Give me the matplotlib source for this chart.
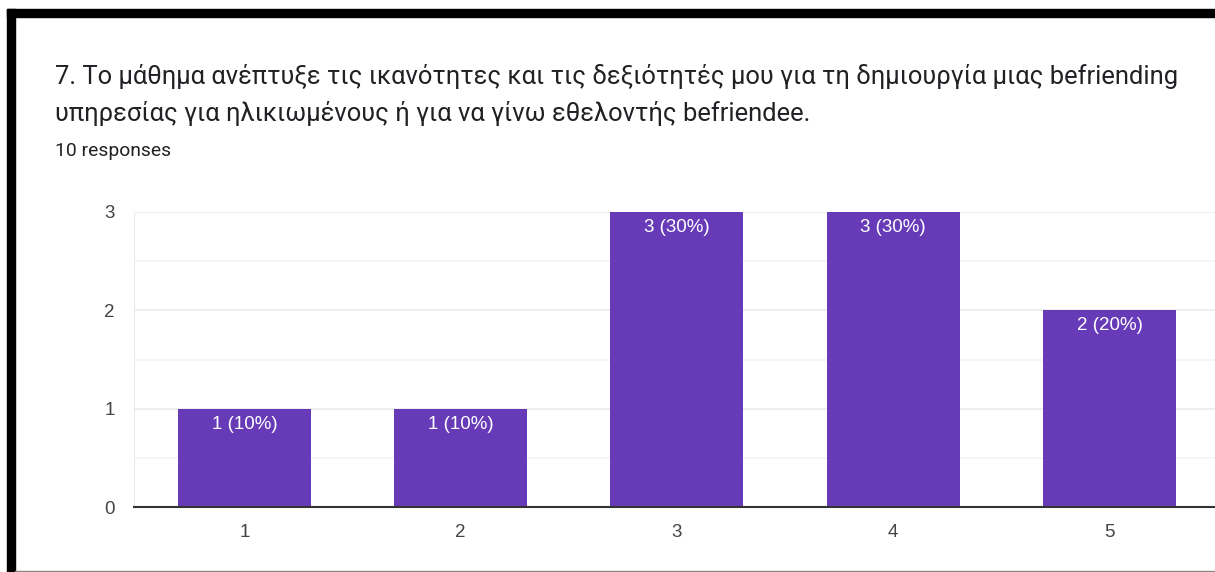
import matplotlib.pyplot as plt
from matplotlib.patches import Rectangle

plt.rcParams['font.family'] = ['Roboto', 'DejaVu Sans']

categories = [1, 2, 3, 4, 5]
counts = [1, 1, 3, 3, 2]
total = 10
title_lines = ["7. Το μάθημα ανέπτυξε τις ικανότητες και τις δεξιότητές μου για τη δημιουργία μιας befriending",
               "υπηρεσίας για ηλικιωμένους ή για να γίνω εθελοντής befriendee."]
subtitle = "10 responses"

W, H = 1215, 572
fig = plt.figure(figsize=(W / 100, H / 100), dpi=100)

# screenshot frame
fig.patches.append(Rectangle((7 / W, 0), 8 / W, (H - 9) / H, transform=fig.transFigure, color='black', zorder=0))
fig.patches.append(Rectangle((7 / W, (H - 17) / H), (W - 7) / W, 8 / H, transform=fig.transFigure, color='black', zorder=0))
fig.patches.append(Rectangle((15 / W, 0), (W - 15) / W, 1.5 / H, transform=fig.transFigure, color='#888888', zorder=0))

fig.text(55 / W, 1 - 84 / H, title_lines[0], fontsize=18.35, color='#202124', va='baseline')
fig.text(55 / W, 1 - 121 / H, title_lines[1], fontsize=18.35, color='#202124', va='baseline')
fig.text(55 / W, 1 - 156 / H, subtitle, fontsize=13.9, color='#202124', va='baseline')

chart_font = ['Liberation Sans', 'DejaVu Sans']

# plot area: x 134 -> right edge, y 212 -> 507 px
ax = fig.add_axes([134 / W, (H - 507) / H, (W - 134) / W, 295 / H])
bars = ax.bar(categories, counts, width=0.615, color='#673ab7', zorder=3)
for b, c in zip(bars, counts):
    ax.annotate(f"{c} ({c * 100 // total}%)", (b.get_x() + b.get_width() / 2, c),
                xytext=(0, -7), textcoords='offset pixels', ha='center', va='top',
                color='white', fontsize=13.5, family=chart_font, zorder=4)

ax.set_xlim(0.489, 5.488)
ax.set_ylim(0, 3)
ax.set_xticks(categories)
ax.set_yticks([0, 1, 2, 3])
ax.set_yticks([0.5, 1.5, 2.5], minor=True)
ax.grid(axis='y', which='major', color='#ebebeb', linewidth=1.2, zorder=0)
ax.grid(axis='y', which='minor', color='#f4f4f4', linewidth=1.2, zorder=0)
ax.tick_params(axis='both', which='both', length=0, labelsize=13.5, labelcolor='#444444')
ax.tick_params(axis='x', pad=12)
ax.tick_params(axis='y', pad=14)
for lab in ax.get_xticklabels() + ax.get_yticklabels():
    lab.set_family(chart_font)
for s in ['top', 'right']:
    ax.spines[s].set_visible(False)
ax.spines['left'].set_color('#ebebeb')
ax.spines['bottom'].set_color('#333333')
ax.spines['bottom'].set_linewidth(1.5)
ax.spines['bottom'].set_zorder(5)

fig.savefig('out.png', dpi=100)
